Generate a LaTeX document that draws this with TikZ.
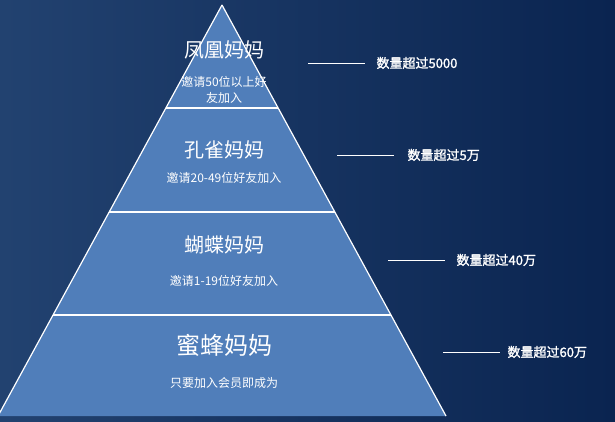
\documentclass[tikz,border=0pt]{standalone}
\usepackage{fontspec}
\newfontfamily\cjk{Noto Sans CJK SC}
\newfontfamily\cjkb[FakeBold=1.5]{Noto Sans CJK SC}
\definecolor{bgdark}{RGB}{10,36,80}
\definecolor{bglight}{RGB}{34,66,112}
\definecolor{band}{RGB}{80,126,186}
\tikzset{
	title/.style={text=white, font=\cjk\fontsize{20}{22}\selectfont},
	sub/.style={text=white, font=\cjk\fontsize{12}{16}\selectfont, align=center},
	count/.style={text=white, font=\cjkb\fontsize{13}{15}\selectfont, anchor=west},
	tick/.style={white, line width=0.6pt}
}
\begin{document}
\begin{tikzpicture}[x=1pt,y=-1pt]
	% Background %
	\shade [left color=bglight, right color=bgdark] (0,0) rectangle (615,421);
	\useasboundingbox (0,0) rectangle (615,421);
	% Pyramid %
	\coordinate (apex) at (222,5);
	\coordinate (baseleft) at (-2,416);
	\coordinate (baseright) at (446,416);
	\fill [band] (apex) -- (baseleft) -- (baseright) -- cycle;
	\foreach \y in {108, 212, 315}
		{\draw [white, line width=1.2pt] (222-\y*0.5464+2.7,\y) -- (222+\y*0.5464-2.7,\y);}
	\draw [white, line width=1.2pt] (apex) -- (baseleft) (apex) -- (baseright);
	% Levels %
	\node (phoenix) [title] at (224,50) {凤凰妈妈};
	\node (phoenixsub) [sub] at (224,90) {邀请50位以上好\\友加入};
	\node (peacock) [title] at (224,150) {孔雀妈妈};
	\node (peacocksub) [sub] at (224,178) {邀请20-49位好友加入};
	\node (butterfly) [title] at (224,245) {蝴蝶妈妈};
	\node (butterflysub) [sub] at (224,281) {邀请1-19位好友加入};
	\node (bee) [title, font=\cjk\fontsize{24}{26}\selectfont] at (224,345) {蜜蜂妈妈};
	\node (beesub) [sub] at (224,383) {只要加入会员即成为};
	% Counts %
	\node (count1) [count] at (373,63) {数量超过5000};
	\node (count2) [count] at (404,155) {数量超过5万};
	\node (count3) [count] at (453,260) {数量超过40万};
	\node (count4) [count] at (504,352) {数量超过60万};
	\coordinate (tick1) at (308,63);
	\coordinate (tick2) at (337,155);
	\coordinate (tick3) at (388,260);
	\coordinate (tick4) at (443,352);
	\foreach \i in {1,...,4}
		{\draw [tick] (tick\i) -- ++(57,0);}
\end{tikzpicture}
\end{document}
